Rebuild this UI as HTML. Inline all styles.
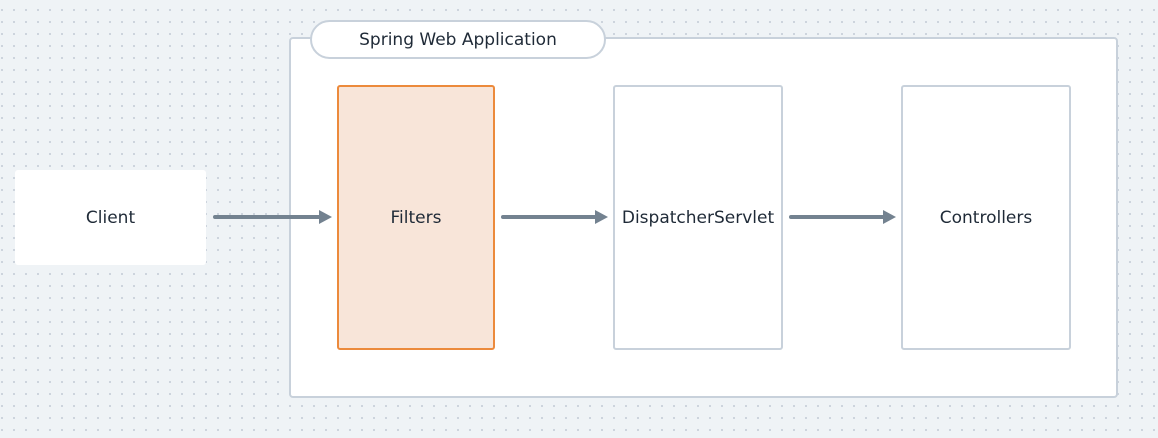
<!DOCTYPE html>
<html><head><style>
html,body{margin:0;padding:0}
body{width:1158px;height:438px;position:relative;overflow:hidden;background-color:#eff3f6;
background-image:radial-gradient(circle,#c6ced8 0.8px,transparent 1.2px);background-size:12px 12px;background-position:-4px 4px;
font-family:"DejaVu Sans","Liberation Sans",sans-serif;color:#1f2a37}
.b{position:absolute;box-sizing:border-box;display:flex;align-items:center;justify-content:center;font-size:17px;font-weight:500}
</style></head><body>
<div class="b" style="left:15px;top:170px;width:191px;height:95px;background:#fff;border-radius:3px">Client</div>
<div class="b" style="left:289px;top:37px;width:829px;height:361px;background:#fff;border:2px solid #c8d1db;border-radius:4px"></div>
<div class="b" style="left:310px;top:20px;width:296px;height:39px;background:#fff;border:2px solid #c8d1db;border-radius:20px">Spring Web Application</div>
<div class="b" style="left:337px;top:85px;width:158px;height:265px;background:#f8e5d9;border:2px solid #ec8a3c;border-radius:3px">Filters</div>
<div class="b" style="left:613px;top:85px;width:170px;height:265px;background:#fff;border:2px solid #c8d1db;border-radius:3px">DispatcherServlet</div>
<div class="b" style="left:901px;top:85px;width:170px;height:265px;background:#fff;border:2px solid #c8d1db;border-radius:3px">Controllers</div>
<svg width="1158" height="438" style="position:absolute;left:0;top:0">
<g stroke="#738290" stroke-width="4" fill="#738290" stroke-linecap="round">
<line x1="215" y1="217" x2="322" y2="217"/><polygon points="319,210 332,217 319,224" stroke="none"/>
<line x1="503" y1="217" x2="598" y2="217"/><polygon points="595,210 608,217 595,224" stroke="none"/>
<line x1="791" y1="217" x2="886" y2="217"/><polygon points="883,210 896,217 883,224" stroke="none"/>
</g></svg>
</body></html>
